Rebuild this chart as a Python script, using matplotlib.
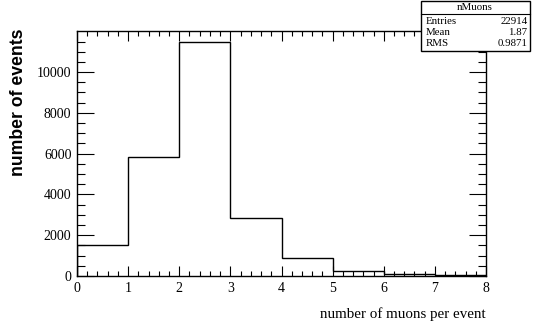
import matplotlib
matplotlib.use("Agg")
import matplotlib.pyplot as plt
import numpy as np
from matplotlib.ticker import MultipleLocator, FixedLocator
from matplotlib.patches import Rectangle
from matplotlib.lines import Line2D

# Histogram of muon multiplicity per event
bin_edges = [0, 1, 2, 3, 4, 5, 6, 7, 8]
counts = [1500, 5860, 11465, 2850, 890, 235, 88, 26]

hist_name = "nMuons"
stat_labels = ["Entries", "Mean", "RMS"]
stat_values = ["22914", "1.87", "0.9871"]

y_major_ticks = [0, 2000, 4000, 6000, 8000, 10000]

x_title = "number of muons per event"
y_title = "number of events"

W, H = 533, 329
fig = plt.figure(figsize=(W / 100, H / 100), dpi=100)
fig.patch.set_facecolor("white")

def fx(px):
    return px / W

def fy(py):
    return 1 - py / H

serif = "Liberation Serif"

left, right, top, bottom = 77, 486, 31, 276
ax = fig.add_axes([fx(left), fy(bottom), fx(right - left), (bottom - top) / H])

ax.stairs(counts, bin_edges, color="black", linewidth=1.0)

ax.set_xlim(bin_edges[0], bin_edges[-1])
ax.set_ylim(0, max(counts) * 1.048)

ax.xaxis.set_major_locator(MultipleLocator(1))
ax.xaxis.set_minor_locator(MultipleLocator(0.2))
ax.yaxis.set_major_locator(FixedLocator(y_major_ticks))
ax.yaxis.set_minor_locator(FixedLocator(np.arange(0, 11501, 500)))

ax.tick_params(axis="both", which="both", direction="in", top=True, right=True,
               colors="black", width=0.8)
ax.tick_params(axis="x", which="major", length=7, pad=4)
ax.tick_params(axis="x", which="minor", length=3.5)
ax.tick_params(axis="y", which="major", length=12, pad=4)
ax.tick_params(axis="y", which="minor", length=6)

for lab in ax.get_xticklabels() + ax.get_yticklabels():
    lab.set_fontfamily(serif)
    lab.set_fontsize(10)

for sp in ax.spines.values():
    sp.set_linewidth(1.0)
    sp.set_color("black")

# Axis titles, right-aligned to the axis ends
fig.text(fx(486), fy(318), x_title, ha="right", va="baseline",
         fontfamily=serif, fontsize=10.8)
fig.text(fx(19), fy(29), y_title, ha="center", va="top", rotation=90,
         fontfamily="Liberation Sans", fontweight="bold", fontsize=12.7)

# Statistics box
bx0, bx1, by0, by1 = 420.5, 529.5, 1, 51
fig.add_artist(Rectangle((fx(bx0), fy(by1)), fx(bx1 - bx0), (by1 - by0) / H,
                         transform=fig.transFigure, facecolor="white",
                         edgecolor="black", linewidth=1.0, zorder=10))
fig.add_artist(Line2D([fx(bx0), fx(bx1)], [fy(14.3), fy(14.3)],
                      transform=fig.transFigure, color="black", linewidth=0.8,
                      zorder=11))
fig.text(fx((bx0 + bx1) / 2), fy(7.5), hist_name, ha="center", va="center",
         fontfamily=serif, fontsize=7.8, zorder=12)
for i, (lab, val) in enumerate(zip(stat_labels, stat_values)):
    yy = fy(21 + i * 11.3)
    fig.text(fx(426), yy, lab, ha="left", va="center", fontfamily=serif,
             fontsize=7.8, zorder=12)
    fig.text(fx(527.5), yy, val, ha="right", va="center", fontfamily=serif,
             fontsize=7.8, zorder=12)

fig.savefig("out.png", dpi=100, facecolor="white")
